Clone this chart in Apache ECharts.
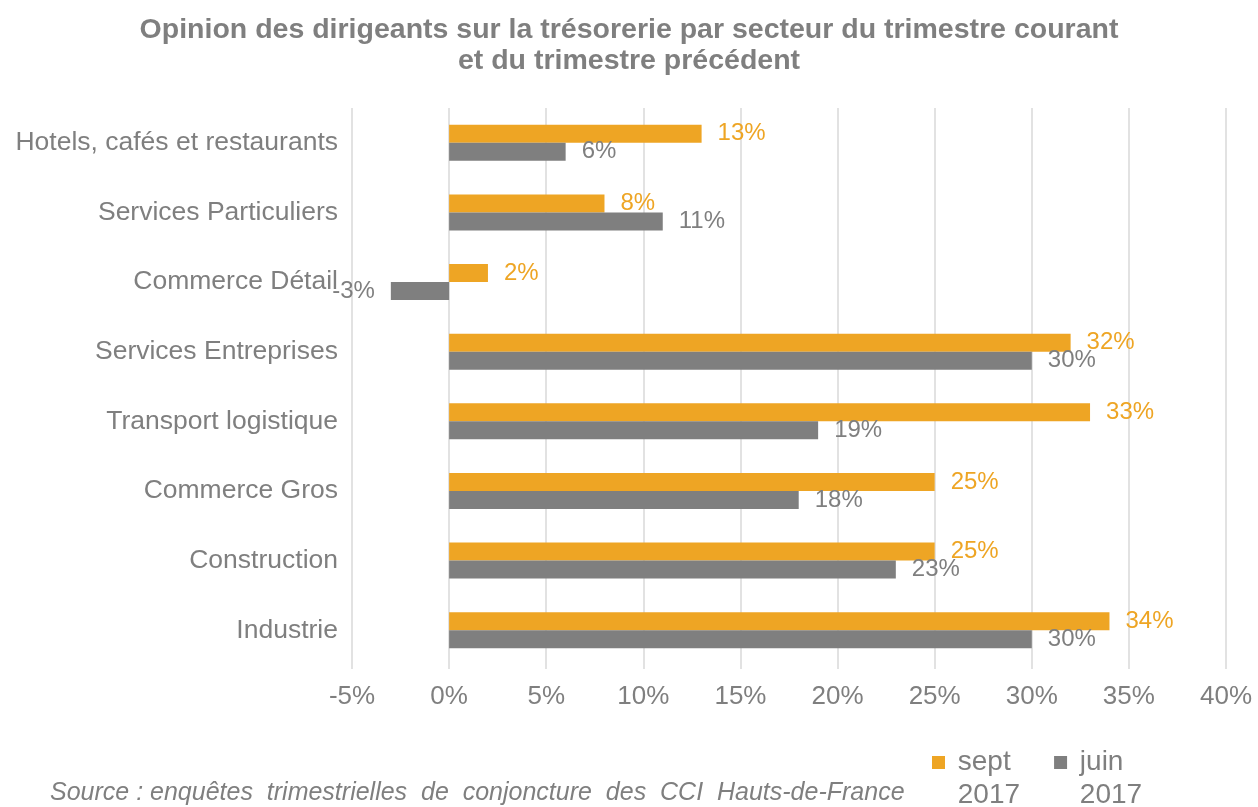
<!DOCTYPE html>
<html lang="fr">
<head>
	<meta charset="UTF-8">
	<title>Trésorerie par secteur</title>
	<style>
		html,body{background:#fff;height:100%;overflow:hidden;margin:0;padding:0;}
		#main{width:1258px;height:807px;}
	</style>
</head>
<body>
	<div id="main"></div>
	<script src="https://cdn.jsdelivr.net/npm/echarts@6/dist/echarts.min.js"></script>
	<script>
		// secteurs, de haut en bas
		var secteurs = ['Hotels, cafés et restaurants', 'Services Particuliers', 'Commerce Détail', 'Services Entreprises', 'Transport logistique', 'Commerce Gros', 'Construction', 'Industrie'];
		var sept2017 = [13, 8, 2, 32, 33, 25, 25, 34];
		var juin2017 = [6, 11, -3, 30, 19, 18, 23, 30];
		var xTicks = {min: -5, max: 40, step: 5};

		var gris = '#7f7f7f', orange = '#eea524';
		var police = 'Liberation Sans, Arial, sans-serif';

		function barData(arr){
			return arr.map(function(v){
				return v < 0 ? {value: v, label: {position: 'left'}} : v;
			});
		}

		var chart = echarts.init(document.getElementById('main'));
		chart.setOption({
			animation: false,
			title: [{
				text: 'Opinion des dirigeants sur la trésorerie par secteur du trimestre courant\net du trimestre précédent',
				left: 'center',
				top: 15,
				padding: 0,
				textStyle: {color: gris, fontSize: 28.5, fontWeight: 'bold', fontFamily: police, lineHeight: 31}
			}, {
				text: 'Source : enquêtes  trimestrielles  de  conjoncture  des  CCI  Hauts-de-France',
				left: 50,
				top: 781,
				padding: 0,
				textStyle: {color: gris, fontSize: 25, fontWeight: 'normal', fontStyle: 'italic', fontFamily: police}
			}],
			legend: {
				data: ['sept 2017', 'juin 2017'],
				left: 932,
				top: 713,
				padding: 0,
				itemWidth: 13,
				itemHeight: 13,
				itemGap: 34,
				icon: 'rect',
				// ligne vide en tete pour aligner le carre sur la premiere ligne
				formatter: function(n){ return ' \n ' + n.replace(' ', '\n '); },
				textStyle: {color: gris, fontSize: 28, fontFamily: police, lineHeight: 33}
			},
			grid: {left: 352, right: 32, top: 108, bottom: 142},
			xAxis: {
				type: 'value',
				min: xTicks.min,
				max: xTicks.max,
				interval: xTicks.step,
				axisLine: {show: false},
				axisTick: {show: true, length: 4, lineStyle: {color: '#d9d9d9', width: 1.5}},
				splitLine: {lineStyle: {color: '#d9d9d9', width: 1.5}},
				axisLabel: {color: gris, fontSize: 26, fontFamily: police, margin: 19, formatter: '{value}%'}
			},
			yAxis: {
				type: 'category',
				inverse: true,
				data: secteurs,
				axisLine: {show: false, onZero: false},
				axisTick: {show: false},
				axisLabel: {color: gris, fontSize: 26.5, fontFamily: police, margin: 14}
			},
			series: [{
				name: 'sept 2017',
				type: 'bar',
				barWidth: 18,
				barGap: 0,
				itemStyle: {color: orange},
				label: {show: true, position: 'right', distance: 16, color: orange, fontSize: 24, fontFamily: police, formatter: '{c}%'},
				data: barData(sept2017)
			}, {
				name: 'juin 2017',
				type: 'bar',
				barWidth: 18,
				barGap: 0,
				itemStyle: {color: gris},
				label: {show: true, position: 'right', distance: 16, color: gris, fontSize: 24, fontFamily: police, formatter: '{c}%'},
				data: barData(juin2017)
			}]
		});
	</script>
</body>
</html>
